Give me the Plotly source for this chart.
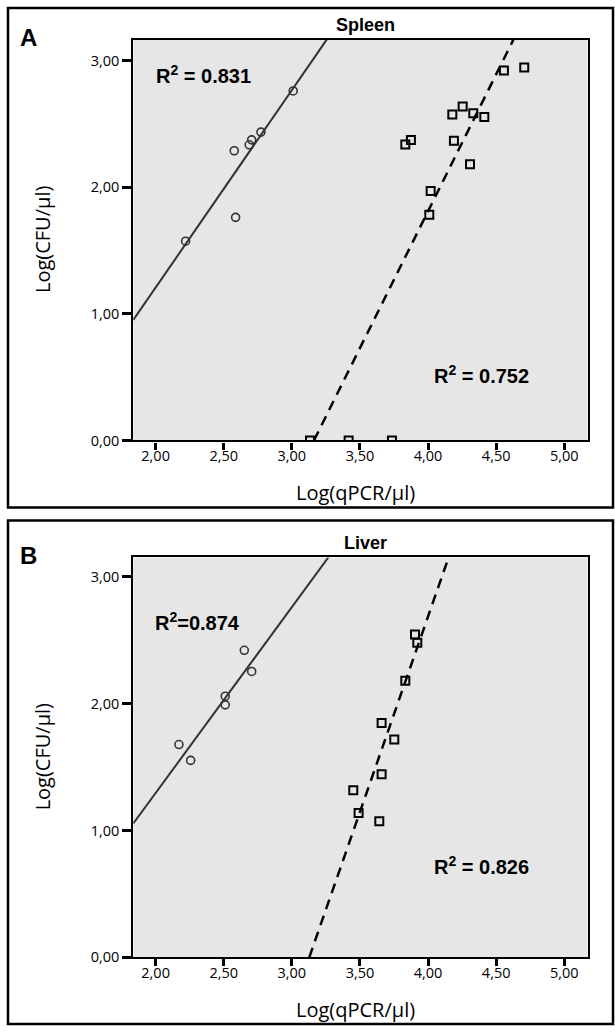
import numpy as np
import plotly.graph_objects as go

# ---------------- data ----------------
# Panel A - Spleen
spleen_circle_x = [3.010, 2.773, 2.705, 2.687, 2.577, 2.587, 2.220]
spleen_circle_y = [2.759, 2.434, 2.373, 2.334, 2.287, 1.761, 1.573]
spleen_square_x = [4.557, 4.706, 4.178, 4.254, 4.332, 4.413, 3.833, 3.874,
                   4.190, 4.308, 4.019, 4.009, 3.133, 3.417, 3.735]
spleen_square_y = [2.921, 2.944, 2.574, 2.637, 2.582, 2.553, 2.336, 2.371,
                   2.365, 2.180, 1.969, 1.781, 0.0, 0.0, 0.0]
spleen_fit_circle = [1.558, -1.909]   # slope, intercept
spleen_fit_square = [2.161, -6.834]

# Panel B - Liver
liver_circle_x = [2.651, 2.705, 2.511, 2.511, 2.171, 2.257]
liver_circle_y = [2.420, 2.253, 2.058, 1.990, 1.677, 1.552]
liver_square_x = [3.904, 3.921, 3.833, 3.659, 3.752, 3.659, 3.451, 3.490, 3.642]
liver_square_y = [2.545, 2.480, 2.180, 1.847, 1.716, 1.443, 1.316, 1.138, 1.073]
liver_fit_circle = [1.465, -1.635]
liver_fit_square = [3.081, -9.637]

x_tick_vals = [2.0, 2.5, 3.0, 3.5, 4.0, 4.5, 5.0]
x_tick_text = ["2,00", "2,50", "3,00", "3,50", "4,00", "4,50", "5,00"]
y_tick_vals = [0.0, 1.0, 2.0, 3.0]
y_tick_text = ["0,00", "1,00", "2,00", "3,00"]

titles = ["Spleen", "Liver"]
panel_letters = ["A", "B"]
r2_circle = ["R<sup>2</sup> = 0.831", "R<sup>2</sup>=0.874"]
r2_square = ["R<sup>2</sup> = 0.752", "R<sup>2</sup> = 0.826"]
x_title = "Log(qPCR/μl)"
y_title = "Log(CFU/μl)"

# ---------------- layout geometry ----------------
W, H = 615, 1035
XR = [1.836, 5.172]
YR = [[0.0, 3.164], [0.0, 3.152]]
plot_px = [(40.0, 444.3), (562.3, 965.7)]
left_px, right_px = 133.3, 587.7
box_px = [(8, 512), (525, 1033)]


def py(v):
    return 1 - v / H


def px(v):
    return v / W


fig = go.Figure()


def fit_line(coef, yr):
    m, b = coef
    x_lo = max(XR[0], (yr[0] - b) / m)
    x_hi = min(XR[1], (yr[1] - b) / m)
    xs = np.array([x_lo, x_hi])
    return xs, m * xs + b


panels = [
    (spleen_circle_x, spleen_circle_y, spleen_square_x, spleen_square_y, spleen_fit_circle, spleen_fit_square),
    (liver_circle_x, liver_circle_y, liver_square_x, liver_square_y, liver_fit_circle, liver_fit_square),
]

annotations = []
shapes = []
for i, (cx, cy, sx, sy, fc, fs) in enumerate(panels):
    xa = "x" if i == 0 else "x2"
    ya = "y" if i == 0 else "y2"
    lx, ly = fit_line(fc, YR[i])
    fig.add_trace(go.Scatter(x=lx, y=ly, mode="lines", xaxis=xa, yaxis=ya,
                             line=dict(color="#333333", width=2), showlegend=False))
    lx, ly = fit_line(fs, YR[i])
    fig.add_trace(go.Scatter(x=lx, y=ly, mode="lines", xaxis=xa, yaxis=ya,
                             line=dict(color="black", width=2.5, dash="10px,7px"), showlegend=False))
    fig.add_trace(go.Scatter(x=cx, y=cy, mode="markers", xaxis=xa, yaxis=ya,
                             marker=dict(symbol="circle-open", size=8, color="#333333",
                                         line=dict(width=1.6, color="#333333")),
                             showlegend=False))
    fig.add_trace(go.Scatter(x=sx, y=sy, mode="markers", xaxis=xa, yaxis=ya,
                             marker=dict(symbol="square-open", size=8, color="black",
                                         line=dict(width=2, color="black")),
                             showlegend=False))

    top, bot = plot_px[i]
    axis_common = dict(showline=True, linecolor="black", linewidth=2.2, mirror=True,
                       ticks="outside", tickcolor="black", tickwidth=2.5,
                       showgrid=False, zeroline=False,
                       tickfont=dict(family="Open Sans", size=14.5, color="black"))
    xkey = "xaxis" if i == 0 else "xaxis2"
    ykey = "yaxis" if i == 0 else "yaxis2"
    fig.update_layout(**{
        xkey: dict(axis_common, domain=[px(left_px), px(right_px)], range=XR,
                   tickvals=x_tick_vals, ticktext=x_tick_text, ticklen=7,
                   ticklabelstandoff=-6, anchor=ya, fixedrange=True),
        ykey: dict(axis_common, domain=[py(bot), py(top)], range=YR[i],
                   tickvals=y_tick_vals, ticktext=y_tick_text, ticklen=9,
                   anchor=xa, fixedrange=True),
    })

    b0, b1 = box_px[i]
    shapes.append(dict(type="rect", xref="paper", yref="paper",
                       x0=px(8), x1=px(613), y0=py(b1), y1=py(b0),
                       line=dict(color="black", width=2.5), layer="below"))

    mid = (top + bot) / 2
    annotations += [
        dict(text="<b>%s</b>" % panel_letters[i], x=px(28), y=py(top - 2), xref="paper", yref="paper",
             showarrow=False, font=dict(family="Liberation Sans", size=24, color="black"),
             xanchor="center", yanchor="middle"),
        dict(text="<b>%s</b>" % titles[i], x=px(365), y=py(top - 15), xref="paper", yref="paper",
             showarrow=False, font=dict(family="Liberation Sans", size=18, color="black"),
             xanchor="center", yanchor="middle"),
        dict(text=x_title, x=px(355), y=py(bot + 53), xref="paper", yref="paper",
             showarrow=False, font=dict(family="Open Sans", size=20, color="black"),
             xanchor="center", yanchor="middle"),
        dict(text=y_title, x=px(42), y=py(mid), xref="paper", yref="paper", textangle=-90,
             showarrow=False, font=dict(family="Open Sans", size=20, color="black"),
             xanchor="center", yanchor="middle"),
    ]

# R2 labels (positions in data coords)
r2_pos_circle = [(2.35, 2.89), (2.31, 2.65)]
r2_pos_square = [(4.39, 0.52), (4.39, 0.72)]
for i in range(2):
    xa = "x" if i == 0 else "x2"
    ya = "y" if i == 0 else "y2"
    annotations.append(dict(text="<b>%s</b>" % r2_circle[i], x=r2_pos_circle[i][0], y=r2_pos_circle[i][1],
                            xref=xa, yref=ya, showarrow=False,
                            font=dict(family="Liberation Sans", size=20, color="black"),
                            xanchor="center", yanchor="middle"))
    annotations.append(dict(text="<b>%s</b>" % r2_square[i], x=r2_pos_square[i][0], y=r2_pos_square[i][1],
                            xref=xa, yref=ya, showarrow=False,
                            font=dict(family="Liberation Sans", size=20, color="black"),
                            xanchor="center", yanchor="middle"))

fig.update_layout(width=W, height=H, autosize=False,
                  margin=dict(l=0, r=0, t=0, b=0, pad=0),
                  paper_bgcolor="white", plot_bgcolor="#e6e6e6",
                  annotations=annotations, shapes=shapes, showlegend=False)

fig.write_html("out.html")
